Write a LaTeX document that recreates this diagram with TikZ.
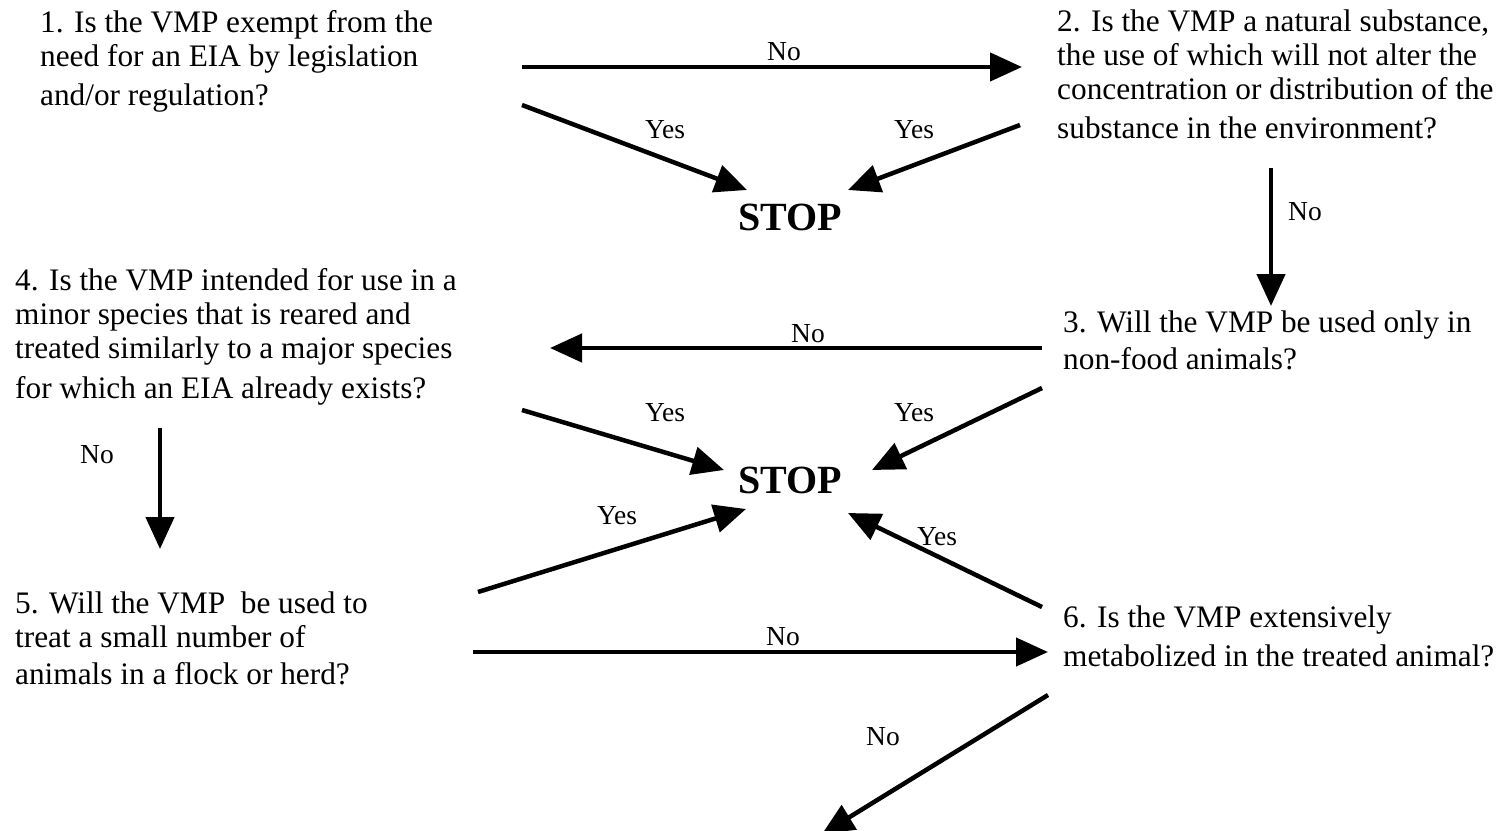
\documentclass[tikz,border=0pt]{standalone}
\usepackage{fontspec}
\setmainfont{Liberation Serif}
\usetikzlibrary{arrows.meta}
\begin{document}
\begin{tikzpicture}[x=1pt,y=-1pt,
  question/.style={anchor=north west, inner sep=0pt, align=left,
    font=\fontsize{31.3}{34}\selectfont},
  stopnode/.style={inner sep=0pt, font=\fontsize{40}{42}\selectfont\bfseries},
  answer/.style={inner sep=0pt, font=\fontsize{27.5}{30}\selectfont},
  flow/.style={line width=4.5pt, -{Triangle[length=32pt,width=28pt]}},
]
\useasboundingbox (0,0) rectangle (1496,830);

% questions
\node[question] (q1) at (40,10) {1. Is the VMP exempt from the\\
  need for an EIA by legislation\\[5pt]
  and/or regulation?};
\node[question] (q2) at (1057,10) {2. Is the VMP a natural substance,\\
  the use of which will not alter the\\
  concentration or distribution of the\\[5pt]
  substance in the environment?};
\node[question] (q3) at (1063,311) {3. Will the VMP be used only in\\[3pt]
  non-food animals?};
\node[question] (q4) at (15,268) {4. Is the VMP intended for use in a\\
  minor species that is reared and\\
  treated similarly to a major species\\[6pt]
  for which an EIA already exists?};
\node[question] (q5) at (15,592) {5. Will the VMP\ \ be used to\\
  treat a small number of\\[3pt]
  animals in a flock or herd?};
\node[question] (q6) at (1063,606) {6. Is the VMP extensively\\[5pt]
  metabolized in the treated animal?};

% stop points
\node[stopnode] (stopA) at (790,217) {STOP};
\node[stopnode] (stopB) at (790,480) {STOP};

% connector end points
\coordinate (q1-no)   at (522,67);
\coordinate (q2-in)   at (1022,67);
\coordinate (q1-yes)  at (522,105);
\coordinate (stopA-w) at (747,190);
\coordinate (q2-yes)  at (1020,125);
\coordinate (stopA-e) at (848,190);
\coordinate (q2-no)   at (1271,168);
\coordinate (q3-in)   at (1271,306);
\coordinate (q3-no)   at (1042,348);
\coordinate (q4-in)   at (550,348);
\coordinate (q4-yes)  at (522,410);
\coordinate (stopB-nw) at (724,470);
\coordinate (q3-yes)  at (1042,388);
\coordinate (stopB-ne) at (872,470);
\coordinate (q4-no)   at (160,428);
\coordinate (q5-in)   at (160,549);
\coordinate (q5-yes)  at (478,592);
\coordinate (stopB-sw) at (746,509);
\coordinate (q6-yes)  at (1042,607);
\coordinate (stopB-se) at (848,513);
\coordinate (q5-no)   at (473,652);
\coordinate (q6-in)   at (1048,652);
\coordinate (q6-no)   at (1048,695);
\coordinate (next)    at (822,834);

% connectors
\draw[flow] (q1-no) -- (q2-in);
\draw[flow] (q1-yes) -- (stopA-w);
\draw[flow] (q2-yes) -- (stopA-e);
\draw[flow] (q2-no) -- (q3-in);
\draw[flow] (q3-no) -- (q4-in);
\draw[flow] (q4-yes) -- (stopB-nw);
\draw[flow] (q3-yes) -- (stopB-ne);
\draw[flow] (q4-no) -- (q5-in);
\draw[flow] (q5-yes) -- (stopB-sw);
\draw[flow] (q6-yes) -- (stopB-se);
\draw[flow] (q5-no) -- (q6-in);
\draw[flow] (q6-no) -- (next);

% answers
\node[answer] (a12)  at (784,52)  {No};
\node[answer] (a1s)  at (665,130) {Yes};
\node[answer] (a2s)  at (914,130) {Yes};
\node[answer] (a23)  at (1305,212) {No};
\node[answer] (a34)  at (808,334) {No};
\node[answer] (a4s)  at (665,413) {Yes};
\node[answer] (a3s)  at (914,413) {Yes};
\node[answer] (a45)  at (97,455)  {No};
\node[answer] (a5s)  at (617,516) {Yes};
\node[answer] (a6s)  at (937,537) {Yes};
\node[answer] (a56)  at (783,637) {No};
\node[answer] (a6n)  at (883,737) {No};
\end{tikzpicture}
\end{document}
